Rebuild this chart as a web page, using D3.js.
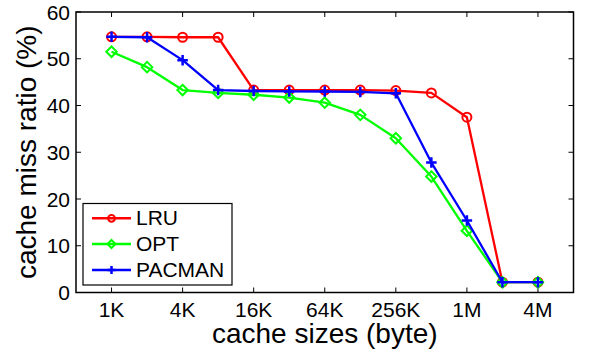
<!DOCTYPE html>
<html>
<head>
<meta charset="utf-8">
<script src="https://cdn.jsdelivr.net/npm/d3@7"></script>
<style>
  html, body { margin: 0; padding: 0; background: #fff; }
  svg { display: block; font-family: "Liberation Sans", Arial, Helvetica, sans-serif; }
</style>
</head>
<body>
<svg id="chart" width="592" height="356"></svg>
<script>
// Cache sizes in bytes (1K .. 4M, doubling)
const sizes = [1024, 2048, 4096, 8192, 16384, 32768, 65536, 131072, 262144, 524288, 1048576, 2097152, 4194304];
const tickSizes = [1024, 4096, 16384, 65536, 262144, 1048576, 4194304];
const tickLabels = ["1K", "4K", "16K", "64K", "256K", "1M", "4M"];
const yTicks = [0, 10, 20, 30, 40, 50, 60];

// Miss ratios (%) per policy
const lru    = [54.7, 54.7, 54.6, 54.6, 43.3, 43.3, 43.3, 43.3, 43.2, 42.7, 37.5, 2.2, 2.2];
const opt    = [51.5, 48.2, 43.3, 42.7, 42.3, 41.7, 40.6, 38.0, 33.0, 24.8, 13.2, 2.2, 2.2];
const pacman = [54.7, 54.6, 49.7, 43.3, 43.1, 43.0, 43.0, 42.9, 42.6, 27.8, 15.4, 2.2, 2.2];

const seriesNames = ["LRU", "OPT", "PACMAN"];
const seriesColors = ["#ff0000", "#00ff00", "#0000ff"];
const seriesMarkers = ["circle", "diamond", "plus"];
const seriesValues = [lru, opt, pacman];

const svg = d3.select("#chart");
const plotL = 76, plotR = 573.5, plotT = 12, plotB = 292.5;

const x = d3.scaleLog().base(2).domain([512, 8388608]).range([plotL, plotR]);
const y = d3.scaleLinear().domain([0, 60]).range([plotB, plotT]);

const tickLen = 5;
const axisG = svg.append("g");

// Inward ticks on all four sides
tickSizes.forEach(t => {
  axisG.append("line").attr("x1", x(t)).attr("x2", x(t)).attr("y1", plotB).attr("y2", plotB - tickLen)
    .attr("stroke", "#000").attr("stroke-width", 1);
  axisG.append("line").attr("x1", x(t)).attr("x2", x(t)).attr("y1", plotT).attr("y2", plotT + tickLen)
    .attr("stroke", "#000").attr("stroke-width", 1);
});
yTicks.forEach(t => {
  axisG.append("line").attr("x1", plotL).attr("x2", plotL + tickLen).attr("y1", y(t)).attr("y2", y(t))
    .attr("stroke", "#000").attr("stroke-width", 1);
  axisG.append("line").attr("x1", plotR).attr("x2", plotR - tickLen).attr("y1", y(t)).attr("y2", y(t))
    .attr("stroke", "#000").attr("stroke-width", 1);
});

// Tick labels
axisG.selectAll("text.xt").data(tickSizes).enter().append("text")
  .attr("x", d => x(d)).attr("y", 317)
  .attr("text-anchor", "middle").attr("font-size", 21).attr("fill", "#000")
  .text((d, i) => tickLabels[i]);
axisG.selectAll("text.yt").data(yTicks).enter().append("text")
  .attr("x", 70).attr("y", d => y(d) + 7.5)
  .attr("text-anchor", "end").attr("font-size", 21).attr("fill", "#000")
  .text(d => d);

// Axis titles
svg.append("text").attr("x", (plotL + plotR) / 2).attr("y", 342.5)
  .attr("text-anchor", "middle").attr("font-size", 28).text("cache sizes (byte)");
svg.append("text").attr("transform", `translate(36,${(plotT + plotB) / 2}) rotate(-90)`)
  .attr("text-anchor", "middle").attr("font-size", 28).text("cache miss ratio (%)");

function drawMarker(g, type, cx, cy, color, size) {
  if (type === "circle") {
    g.append("circle").attr("cx", cx).attr("cy", cy).attr("r", size * 0.9)
      .attr("fill", "none").attr("stroke", color).attr("stroke-width", 2);
  } else if (type === "diamond") {
    const s = size * 1.05;
    g.append("path").attr("d", `M${cx},${cy - s}L${cx + s},${cy}L${cx},${cy + s}L${cx - s},${cy}Z`)
      .attr("fill", "none").attr("stroke", color).attr("stroke-width", 2);
  } else {
    const s = size * 1.05;
    g.append("path").attr("d", `M${cx - s},${cy}H${cx + s}M${cx},${cy - s}V${cy + s}`)
      .attr("fill", "none").attr("stroke", color).attr("stroke-width", 2.5);
  }
}

const line = d3.line().x((d, i) => x(sizes[i])).y(d => y(d));

seriesValues.forEach((vals, k) => {
  const g = svg.append("g");
  g.append("path").attr("d", line(vals)).attr("fill", "none")
    .attr("stroke", seriesColors[k]).attr("stroke-width", 2.3).attr("stroke-linejoin", "round");
  vals.forEach((v, i) => drawMarker(g, seriesMarkers[k], x(sizes[i]), y(v), seriesColors[k], 5));
});

// Axes box
svg.append("rect").attr("x", plotL).attr("y", plotT).attr("width", plotR - plotL).attr("height", plotB - plotT)
  .attr("fill", "none").attr("stroke", "#000").attr("stroke-width", 1.5);

// Legend
const lg = svg.append("g");
lg.append("rect").attr("x", 83).attr("y", 203.5).attr("width", 149).attr("height", 81.5)
  .attr("fill", "#fff").attr("stroke", "#000").attr("stroke-width", 1.2);
const legendY = [218.3, 244, 270];
seriesNames.forEach((name, k) => {
  lg.append("line").attr("x1", 92).attr("x2", 131).attr("y1", legendY[k]).attr("y2", legendY[k])
    .attr("stroke", seriesColors[k]).attr("stroke-width", 2.5);
  drawMarker(lg, seriesMarkers[k], 111.5, legendY[k], seriesColors[k], 3.8);
  lg.append("text").attr("x", 136).attr("y", legendY[k] + 7).attr("font-size", 21).text(name);
});
</script>
</body>
</html>
